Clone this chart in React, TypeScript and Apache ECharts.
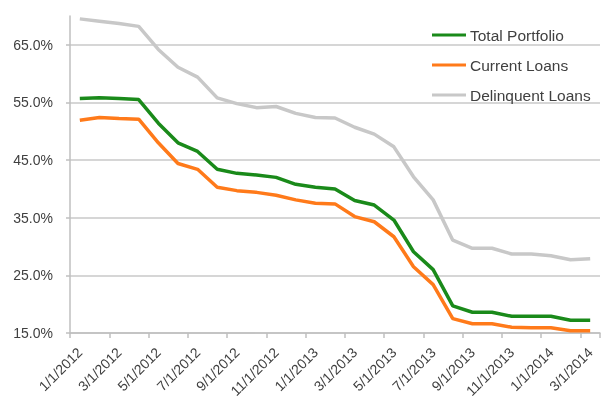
import React, { useEffect, useRef } from "react";
import * as echarts from "echarts";

const months = [
  "1/1/2012", "2/1/2012", "3/1/2012", "4/1/2012", "5/1/2012", "6/1/2012",
  "7/1/2012", "8/1/2012", "9/1/2012", "10/1/2012", "11/1/2012", "12/1/2012",
  "1/1/2013", "2/1/2013", "3/1/2013", "4/1/2013", "5/1/2013", "6/1/2013",
  "7/1/2013", "8/1/2013", "9/1/2013", "10/1/2013", "11/1/2013", "12/1/2013",
  "1/1/2014", "2/1/2014", "3/1/2014",
];

const totalPortfolio = [
  55.7, 55.8, 55.7, 55.5, 51.4, 48.0, 46.5, 43.4, 42.7, 42.4, 42.0, 40.8,
  40.3, 40.0, 38.0, 37.2, 34.6, 29.1, 26.0, 19.7, 18.6, 18.6, 17.9, 17.9,
  17.9, 17.2, 17.2,
];

const currentLoans = [
  51.9, 52.4, 52.2, 52.1, 48.0, 44.4, 43.4, 40.3, 39.7, 39.4, 38.9, 38.1,
  37.5, 37.4, 35.2, 34.3, 31.7, 26.5, 23.4, 17.5, 16.6, 16.6, 16.0, 15.9,
  15.9, 15.4, 15.4,
];

const delinquentLoans = [
  69.5, 69.1, 68.7, 68.2, 64.2, 61.1, 59.4, 55.8, 54.8, 54.1, 54.3, 53.1,
  52.4, 52.3, 50.7, 49.5, 47.3, 42.1, 38.1, 31.1, 29.7, 29.7, 28.7, 28.7,
  28.4, 27.7, 27.9,
];

const seriesNames = ["Total Portfolio", "Current Loans", "Delinquent Loans"];
const seriesColors = ["#1a8a1a", "#ff7a1a", "#c8c8c8"];

export default function App() {
  const ref = useRef<HTMLDivElement>(null);
  useEffect(() => {
    if (!ref.current) return;
    const chart = echarts.init(ref.current, undefined, { renderer: "svg" });
    const dataSets = [totalPortfolio, currentLoans, delinquentLoans];
    chart.setOption({
      animation: false,
      textStyle: { fontFamily: "Liberation Sans, Arial, sans-serif" },
      grid: {
        left: 70,
        right: 5,
        top: 16,
        bottom: 70,
        containLabel: false,
        outerBoundsMode: "none",
      },
      legend: {
        orient: "vertical",
        left: 432,
        top: 27,
        padding: 0,
        icon: "rect",
        itemWidth: 34,
        itemHeight: 3,
        itemGap: 14,
        data: seriesNames,
        textStyle: { fontSize: 15.5, lineHeight: 16, color: "#404040", padding: [0, 0, 0, -1] },
      },
      xAxis: {
        type: "category",
        data: months,
        boundaryGap: true,
        axisLine: { lineStyle: { color: "#bfbfbf", width: 1.5 } },
        axisTick: { show: true, interval: 1, length: 5, lineStyle: { color: "#bfbfbf", width: 1.5 } },
        axisLabel: {
          interval: 1,
          rotate: 45,
          fontSize: 14,
          color: "#404040",
          margin: 17,
        },
        splitLine: { show: false },
      },
      yAxis: {
        type: "value",
        min: 15,
        max: 70,
        interval: 10,
        axisLine: { show: true, lineStyle: { color: "#bfbfbf", width: 1.5 } },
        axisTick: { show: true, length: 4, lineStyle: { color: "#bfbfbf", width: 1.5 } },
        axisLabel: {
          fontSize: 14,
          color: "#404040",
          margin: 17,
          showMaxLabel: false,
          formatter: (v: number) => (v >= 70 ? "" : v.toFixed(1) + "%"),
        },
        splitLine: {
          show: true,
          lineStyle: {
            color: ["#c8c8c8", "#c8c8c8", "#c8c8c8", "#c8c8c8", "#c8c8c8", "#c8c8c8", "rgba(0,0,0,0)"],
            width: 1.5,
          },
        },
      },
      series: dataSets.map((d, i) => ({
        name: seriesNames[i],
        type: "line",
        data: d,
        symbol: "none",
        color: seriesColors[i],
        itemStyle: { color: seriesColors[i] },
        lineStyle: { width: 3.5, color: seriesColors[i] },
        z: 3 - i,
      })),
    });
    return () => chart.dispose();
  }, []);
  return (
    <div
      ref={ref}
      style={{ position: "fixed", left: 0, top: 0, width: 605, height: 403 }}
    />
  );
}
